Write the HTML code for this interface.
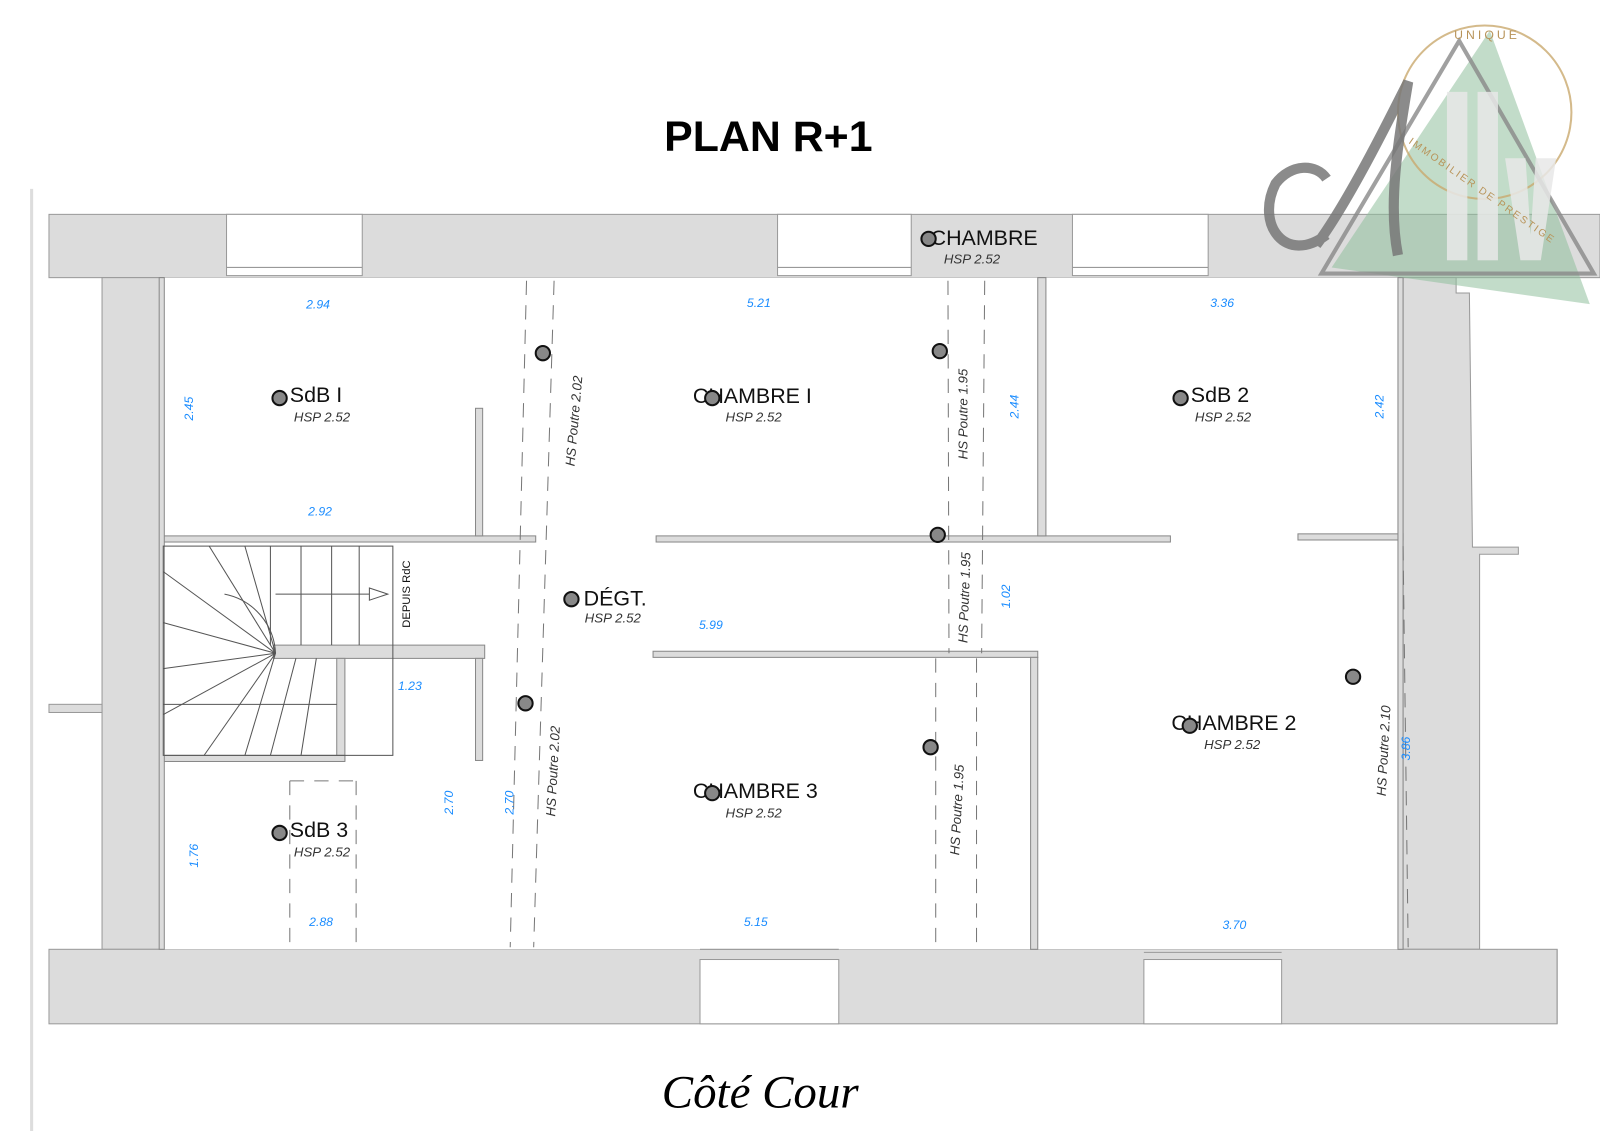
<!DOCTYPE html>
<html><head><meta charset="utf-8"><style>
html,body{margin:0;padding:0;background:#fff;}
svg{display:block;}
.dim{font-family:"Liberation Sans",sans-serif;font-style:italic;font-size:12px;fill:#1a8cff;}
.rm{font-family:"Liberation Sans",sans-serif;font-size:21px;fill:#111;}
.hsp{font-family:"Liberation Sans",sans-serif;font-style:italic;font-size:13px;fill:#333;}
.beam{font-family:"Liberation Sans",sans-serif;font-style:italic;font-size:13px;fill:#333;}
</style></head><body>
<svg width="1600" height="1131" viewBox="0 0 1568 1108" preserveAspectRatio="none" xmlns="http://www.w3.org/2000/svg">
<rect width="1568" height="1108" fill="#fff"/>
<line x1="31" y1="185" x2="31" y2="1108" stroke="#ddd" stroke-width="3"/>
<text x="753" y="148" text-anchor="middle" font-family="Liberation Sans,sans-serif" font-weight="bold" font-size="42" fill="#000">PLAN R+1</text>
<!-- walls -->
<g fill="#dcdcdc" stroke="#999" stroke-width="1">
<rect x="48" y="210" width="1520" height="62"/>
<rect x="100" y="272" width="60" height="658"/>
<path d="M1375 272 L1427 272 L1427 287 L1440 287 L1443 536 L1488 536 L1488 543 L1450 543 L1450 930 L1375 930 Z"/>
<rect x="48" y="930" width="1478" height="73"/>
<rect x="48" y="690" width="52" height="8"/>
</g>
<g fill="#fff" stroke="#999" stroke-width="1">
<rect x="222" y="210" width="133" height="60"/>
<rect x="762" y="210" width="131" height="60"/>
<rect x="1051" y="210" width="133" height="60"/>
<rect x="686" y="940" width="136" height="63"/>
<rect x="1121" y="940" width="135" height="63"/>
<rect x="160" y="272" width="1215" height="658" stroke="none"/>
</g>
<line x1="1526" y1="930" x2="1526" y2="1003" stroke="#999"/>
<line x1="222" y1="262" x2="355" y2="262" stroke="#999"/>
<line x1="762" y1="262" x2="893" y2="262" stroke="#999"/>
<line x1="1051" y1="262" x2="1184" y2="262" stroke="#999"/>
<line x1="686" y1="930" x2="822" y2="930" stroke="#999"/>
<line x1="1121" y1="933" x2="1256" y2="933" stroke="#999"/>
<!-- interior walls -->
<g fill="#dcdcdc" stroke="#888" stroke-width="1">
<rect x="160" y="525" width="365" height="6"/>
<rect x="466" y="400" width="7" height="125"/>
<rect x="643" y="525" width="504" height="6"/>
<rect x="1272" y="523" width="103" height="6"/>
<rect x="1017" y="272" width="8" height="253"/>
<rect x="640" y="638" width="377" height="6"/>
<rect x="1010" y="644" width="7" height="286"/>
<rect x="268" y="632" width="207" height="13"/>
<rect x="466" y="645" width="7" height="100"/>
<rect x="330" y="645" width="8" height="100"/>
<rect x="160" y="740" width="178" height="6"/>
<rect x="156" y="272" width="5" height="658"/>
<rect x="1370" y="272" width="5" height="658"/>
</g>
<!-- stairs -->
<g stroke="#555" stroke-width="1" fill="none">
<rect x="160" y="535" width="225" height="205"/>
<path d="M270 640 A62 62 0 0 0 220 582"/>
<path d="M270 582 L380 582"/>
<polygon points="362,576 380,582 362,588" fill="#fff"/>
<line x1="265" y1="535" x2="265" y2="632"/>
<line x1="295" y1="535" x2="295" y2="632"/>
<line x1="325" y1="535" x2="325" y2="632"/>
<line x1="352" y1="535" x2="352" y2="632"/>
<line x1="270" y1="640" x2="160" y2="560"/>
<line x1="270" y1="640" x2="205" y2="535"/>
<line x1="270" y1="640" x2="240" y2="535"/>
<line x1="270" y1="640" x2="160" y2="610"/>
<line x1="270" y1="640" x2="160" y2="655"/>
<line x1="270" y1="640" x2="160" y2="700"/>
<line x1="270" y1="640" x2="200" y2="740"/>
<line x1="270" y1="640" x2="240" y2="740"/>
<line x1="290" y1="645" x2="265" y2="740"/>
<line x1="310" y1="645" x2="295" y2="740"/>
<line x1="330" y1="690" x2="160" y2="690"/>
</g>
<text transform="translate(402,615) rotate(-90)" font-family="Liberation Sans,sans-serif" font-size="11" fill="#111">DEPUIS RdC</text>
<!-- dashed beams -->
<g stroke="#777" stroke-width="1" stroke-dasharray="14,10" fill="none">
<line x1="516" y1="275" x2="500" y2="928"/>
<line x1="543" y1="275" x2="523" y2="928"/>
<line x1="929" y1="275" x2="930" y2="640"/>
<line x1="965" y1="275" x2="962" y2="640"/>
<line x1="917" y1="645" x2="917" y2="928"/>
<line x1="957" y1="645" x2="957" y2="928"/>
<line x1="1375" y1="535" x2="1380" y2="928"/>
<line x1="284" y1="765" x2="284" y2="928"/>
<line x1="349" y1="765" x2="349" y2="928"/>
<line x1="284" y1="765" x2="349" y2="765"/>
</g>
<!-- dims -->
<text class="dim" x="300" y="302">2.94</text>
<text class="dim" x="732" y="301">5.21</text>
<text class="dim" x="1186" y="301">3.36</text>
<text class="dim" x="302" y="505">2.92</text>
<text class="dim" x="390" y="676">1.23</text>
<text class="dim" x="685" y="616">5.99</text>
<text class="dim" x="303" y="907">2.88</text>
<text class="dim" x="729" y="907">5.15</text>
<text class="dim" x="1198" y="910">3.70</text>
<text class="dim" transform="translate(189,412) rotate(-90)">2.45</text>
<text class="dim" transform="translate(998,410) rotate(-90)">2.44</text>
<text class="dim" transform="translate(1356,410) rotate(-90)">2.42</text>
<text class="dim" transform="translate(990,596) rotate(-90)">1.02</text>
<text class="dim" transform="translate(444,798) rotate(-90)">2.70</text>
<text class="dim" transform="translate(503,798) rotate(-90)">2.70</text>
<text class="dim" transform="translate(194,850) rotate(-90)">1.76</text>
<text class="dim" transform="translate(1382,745) rotate(-90)">3.86</text>
<!-- beam labels -->
<text class="beam" transform="translate(563,457) rotate(-85)">HS Poutre 2.02</text>
<text class="beam" transform="translate(948,450) rotate(-90)">HS Poutre 1.95</text>
<text class="beam" transform="translate(948,630) rotate(-88)">HS Poutre 1.95</text>
<text class="beam" transform="translate(544,800) rotate(-87)">HS Poutre 2.02</text>
<text class="beam" transform="translate(940,838) rotate(-87)">HS Poutre 1.95</text>
<text class="beam" transform="translate(1358,780) rotate(-87)">HS Poutre 2.10</text>
<!-- rooms -->
<g>
<text class="rm" x="912" y="240">CHAMBRE</text><text class="hsp" x="925" y="258">HSP 2.52</text>
<text class="rm" x="284" y="394">SdB I</text><text class="hsp" x="288" y="413">HSP 2.52</text>
<text class="rm" x="679" y="395">CHAMBRE I</text><text class="hsp" x="711" y="413">HSP 2.52</text>
<text class="rm" x="1167" y="394">SdB 2</text><text class="hsp" x="1171" y="413">HSP 2.52</text>
<text class="rm" x="572" y="593">DÉGT.</text><text class="hsp" x="573" y="610">HSP 2.52</text>
<text class="rm" x="1148" y="715">CHAMBRE 2</text><text class="hsp" x="1180" y="734">HSP 2.52</text>
<text class="rm" x="679" y="782">CHAMBRE 3</text><text class="hsp" x="711" y="801">HSP 2.52</text>
<text class="rm" x="284" y="820">SdB 3</text><text class="hsp" x="288" y="839">HSP 2.52</text>
</g>
<!-- markers -->
<g fill="#888" stroke="#111" stroke-width="2">
<circle cx="910" cy="234" r="7"/><circle cx="274" cy="390" r="7"/><circle cx="698" cy="390" r="7"/>
<circle cx="1157" cy="390" r="7"/><circle cx="560" cy="587" r="7"/><circle cx="1166" cy="711" r="7"/>
<circle cx="698" cy="777" r="7"/><circle cx="274" cy="816" r="7"/><circle cx="532" cy="346" r="7"/>
<circle cx="921" cy="344" r="7"/><circle cx="919" cy="524" r="7"/><circle cx="515" cy="689" r="7"/>
<circle cx="912" cy="732" r="7"/><circle cx="1326" cy="663" r="7"/>
</g>
<!-- logo -->
<g>
<polygon points="1460,30 1558,298 1305,262" fill="#8fc09c" opacity="0.55"/>
<circle cx="1455" cy="110" r="85" fill="none" stroke="#c9a96e" stroke-width="2" opacity="0.8"/>
<polygon points="1430,40 1295,268 1562,268" fill="none" stroke="#888" stroke-width="4" opacity="0.8"/>
<path d="M1300 230 C1260 260 1230 220 1250 180 C1265 160 1290 160 1300 175 M1290 240 C1320 200 1360 120 1380 80 C1370 140 1360 200 1370 250" fill="none" stroke="#777" stroke-width="10" opacity="0.85"/>
<rect x="1418" y="90" width="20" height="165" fill="#e8e8e8" opacity="0.85"/>
<rect x="1448" y="90" width="20" height="165" fill="#e8e8e8" opacity="0.85"/>
<polygon points="1475,155 1495,155 1500,230 1505,155 1525,155 1510,255 1490,255" fill="#e8e8e8" opacity="0.85"/>
<text x="1425" y="38" font-family="Liberation Sans,sans-serif" font-size="12" fill="#b8945a" letter-spacing="3">UNIQUE</text>
<text transform="translate(1380,140) rotate(35)" font-family="Liberation Sans,sans-serif" font-size="10" fill="#b8945a" letter-spacing="2">IMMOBILIER DE PRESTIGE</text>
</g>
<text x="745" y="1085" text-anchor="middle" font-family="Liberation Serif,serif" font-style="italic" font-size="46" fill="#000">Côté Cour</text>
</svg>
</body></html>
